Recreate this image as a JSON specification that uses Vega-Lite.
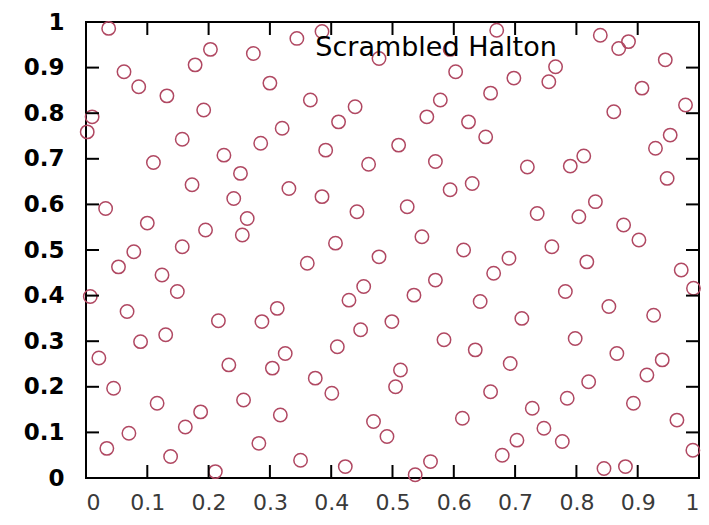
{
  "$schema": "https://vega.github.io/schema/vega-lite/v6.json",
  "width": 613,
  "height": 456,
  "autosize": "none",
  "padding": {"left": 86, "top": 22, "right": 10, "bottom": 47},
  "background": "white",
  "config": {
    "view": {"stroke": "black", "strokeWidth": 2},
    "axis": {
      "grid": false,
      "domain": false,
      "ticks": false,
      "labelColor": "black",
      "labelFont": "DejaVu Sans",
      "labelFontSize": 23,
      "title": null
    }
  },
  "datasets": {
    "ticks": [
      {"t": 0}, {"t": 0.1}, {"t": 0.2}, {"t": 0.3}, {"t": 0.4}, {"t": 0.5},
      {"t": 0.6}, {"t": 0.7}, {"t": 0.8}, {"t": 0.9}, {"t": 1}
    ],
    "pts": [
      {"x": 0.037, "y": 0.986}, {"x": 0.062, "y": 0.891}, {"x": 0.086, "y": 0.858}, {"x": 0.132, "y": 0.838},
      {"x": 0.178, "y": 0.906}, {"x": 0.203, "y": 0.940}, {"x": 0.192, "y": 0.807}, {"x": 0.273, "y": 0.931},
      {"x": 0.300, "y": 0.866}, {"x": 0.010, "y": 0.792}, {"x": 0.002, "y": 0.759}, {"x": 0.157, "y": 0.743},
      {"x": 0.225, "y": 0.708}, {"x": 0.285, "y": 0.734}, {"x": 0.320, "y": 0.767}, {"x": 0.110, "y": 0.692},
      {"x": 0.344, "y": 0.964}, {"x": 0.385, "y": 0.979}, {"x": 0.366, "y": 0.829}, {"x": 0.439, "y": 0.814},
      {"x": 0.412, "y": 0.781}, {"x": 0.391, "y": 0.719}, {"x": 0.461, "y": 0.688}, {"x": 0.510, "y": 0.730},
      {"x": 0.556, "y": 0.792}, {"x": 0.578, "y": 0.829}, {"x": 0.603, "y": 0.891}, {"x": 0.624, "y": 0.781},
      {"x": 0.652, "y": 0.748}, {"x": 0.660, "y": 0.844}, {"x": 0.570, "y": 0.694},
      {"x": 0.670, "y": 0.982}, {"x": 0.594, "y": 0.940}, {"x": 0.478, "y": 0.920},
      {"x": 0.839, "y": 0.971}, {"x": 0.869, "y": 0.942}, {"x": 0.885, "y": 0.957}, {"x": 0.945, "y": 0.917},
      {"x": 0.766, "y": 0.902}, {"x": 0.755, "y": 0.869}, {"x": 0.698, "y": 0.877}, {"x": 0.907, "y": 0.855},
      {"x": 0.978, "y": 0.818}, {"x": 0.861, "y": 0.803}, {"x": 0.953, "y": 0.752}, {"x": 0.929, "y": 0.723},
      {"x": 0.812, "y": 0.706}, {"x": 0.790, "y": 0.684}, {"x": 0.720, "y": 0.682},
      {"x": 0.252, "y": 0.668}, {"x": 0.173, "y": 0.643}, {"x": 0.331, "y": 0.635}, {"x": 0.241, "y": 0.613},
      {"x": 0.032, "y": 0.591}, {"x": 0.100, "y": 0.559}, {"x": 0.195, "y": 0.544}, {"x": 0.263, "y": 0.569},
      {"x": 0.255, "y": 0.533}, {"x": 0.157, "y": 0.507}, {"x": 0.078, "y": 0.496}, {"x": 0.053, "y": 0.463},
      {"x": 0.124, "y": 0.445}, {"x": 0.149, "y": 0.409}, {"x": 0.007, "y": 0.398}, {"x": 0.067, "y": 0.365},
      {"x": 0.216, "y": 0.345}, {"x": 0.312, "y": 0.372}, {"x": 0.287, "y": 0.343},
      {"x": 0.385, "y": 0.617}, {"x": 0.442, "y": 0.584}, {"x": 0.524, "y": 0.595}, {"x": 0.594, "y": 0.632},
      {"x": 0.630, "y": 0.646}, {"x": 0.407, "y": 0.515}, {"x": 0.548, "y": 0.529}, {"x": 0.616, "y": 0.500},
      {"x": 0.361, "y": 0.471}, {"x": 0.478, "y": 0.485}, {"x": 0.665, "y": 0.449}, {"x": 0.570, "y": 0.434},
      {"x": 0.453, "y": 0.420}, {"x": 0.429, "y": 0.390}, {"x": 0.535, "y": 0.401}, {"x": 0.643, "y": 0.387},
      {"x": 0.499, "y": 0.343},
      {"x": 0.948, "y": 0.657}, {"x": 0.831, "y": 0.606}, {"x": 0.736, "y": 0.580}, {"x": 0.804, "y": 0.573},
      {"x": 0.877, "y": 0.555}, {"x": 0.902, "y": 0.522}, {"x": 0.760, "y": 0.507}, {"x": 0.690, "y": 0.482},
      {"x": 0.817, "y": 0.474}, {"x": 0.971, "y": 0.456}, {"x": 0.991, "y": 0.416}, {"x": 0.782, "y": 0.409},
      {"x": 0.853, "y": 0.376}, {"x": 0.926, "y": 0.357}, {"x": 0.711, "y": 0.350},
      {"x": 0.130, "y": 0.314}, {"x": 0.089, "y": 0.299}, {"x": 0.021, "y": 0.263}, {"x": 0.233, "y": 0.248},
      {"x": 0.304, "y": 0.241}, {"x": 0.325, "y": 0.273}, {"x": 0.045, "y": 0.197}, {"x": 0.257, "y": 0.171},
      {"x": 0.317, "y": 0.138}, {"x": 0.116, "y": 0.164}, {"x": 0.187, "y": 0.145}, {"x": 0.162, "y": 0.112},
      {"x": 0.070, "y": 0.098}, {"x": 0.034, "y": 0.065}, {"x": 0.138, "y": 0.047}, {"x": 0.211, "y": 0.014},
      {"x": 0.282, "y": 0.076},
      {"x": 0.448, "y": 0.325}, {"x": 0.410, "y": 0.288}, {"x": 0.584, "y": 0.303}, {"x": 0.635, "y": 0.281},
      {"x": 0.513, "y": 0.237}, {"x": 0.505, "y": 0.200}, {"x": 0.374, "y": 0.219}, {"x": 0.401, "y": 0.186},
      {"x": 0.660, "y": 0.189}, {"x": 0.614, "y": 0.131}, {"x": 0.469, "y": 0.124}, {"x": 0.491, "y": 0.091},
      {"x": 0.350, "y": 0.039}, {"x": 0.423, "y": 0.025}, {"x": 0.562, "y": 0.036}, {"x": 0.537, "y": 0.007},
      {"x": 0.798, "y": 0.306}, {"x": 0.866, "y": 0.273}, {"x": 0.940, "y": 0.259}, {"x": 0.915, "y": 0.226},
      {"x": 0.692, "y": 0.251}, {"x": 0.820, "y": 0.211}, {"x": 0.785, "y": 0.175}, {"x": 0.893, "y": 0.164},
      {"x": 0.728, "y": 0.153}, {"x": 0.964, "y": 0.127}, {"x": 0.747, "y": 0.109}, {"x": 0.777, "y": 0.080},
      {"x": 0.703, "y": 0.083}, {"x": 0.990, "y": 0.061}, {"x": 0.679, "y": 0.050}, {"x": 0.880, "y": 0.025},
      {"x": 0.845, "y": 0.021}
    ]
  },
  "layer": [
    {
      "data": {"name": "pts"},
      "mark": {"type": "point", "shape": "circle", "filled": false, "size": 180, "strokeWidth": 1.5, "color": "#b04862", "opacity": 1},
      "encoding": {
        "x": {"field": "x", "type": "quantitative", "scale": {"domain": [0, 1], "nice": false, "zero": false},
              "axis": {"orient": "bottom", "title": null, "values": [0, 0.1, 0.2, 0.3, 0.4, 0.5, 0.6, 0.7, 0.8, 0.9, 1], "format": "~g", "labelPadding": 14, "labelFontSize": 22, "labelColor": "#3a3a3a"}},
        "y": {"field": "y", "type": "quantitative", "scale": {"domain": [0, 1], "nice": false, "zero": false},
              "axis": {"orient": "left", "title": null, "values": [0, 0.1, 0.2, 0.3, 0.4, 0.5, 0.6, 0.7, 0.8, 0.9, 1], "format": "~g", "labelPadding": 22, "labelFontWeight": "bold"}}
      }
    },
    {
      "data": {"name": "ticks"},
      "mark": {"type": "rule", "color": "black", "strokeWidth": 2},
      "encoding": {
        "x": {"field": "t", "type": "quantitative", "axis": null},
        "y": {"datum": 0, "type": "quantitative", "axis": null},
        "y2": {"datum": 0.0285}
      }
    },
    {
      "data": {"name": "ticks"},
      "mark": {"type": "rule", "color": "black", "strokeWidth": 2},
      "encoding": {
        "x": {"field": "t", "type": "quantitative", "axis": null},
        "y": {"datum": 1, "type": "quantitative", "axis": null},
        "y2": {"datum": 0.9715}
      }
    },
    {
      "data": {"name": "ticks"},
      "mark": {"type": "rule", "color": "black", "strokeWidth": 2},
      "encoding": {
        "y": {"field": "t", "type": "quantitative", "axis": null},
        "x": {"datum": 0, "type": "quantitative", "axis": null},
        "x2": {"datum": 0.0212}
      }
    },
    {
      "data": {"name": "ticks"},
      "mark": {"type": "rule", "color": "black", "strokeWidth": 2},
      "encoding": {
        "y": {"field": "t", "type": "quantitative", "axis": null},
        "x": {"datum": 1, "type": "quantitative", "axis": null},
        "x2": {"datum": 0.9788}
      }
    },
    {
      "data": {"values": [{"label": "Scrambled Halton"}]},
      "mark": {"type": "text", "align": "right", "baseline": "middle", "font": "DejaVu Sans", "fontSize": 27, "color": "black"},
      "encoding": {
        "x": {"datum": 0.768, "type": "quantitative", "axis": null},
        "y": {"datum": 0.943, "type": "quantitative", "axis": null},
        "text": {"field": "label"}
      }
    }
  ],
  "resolve": {"axis": {"x": "independent", "y": "independent"}}
}
